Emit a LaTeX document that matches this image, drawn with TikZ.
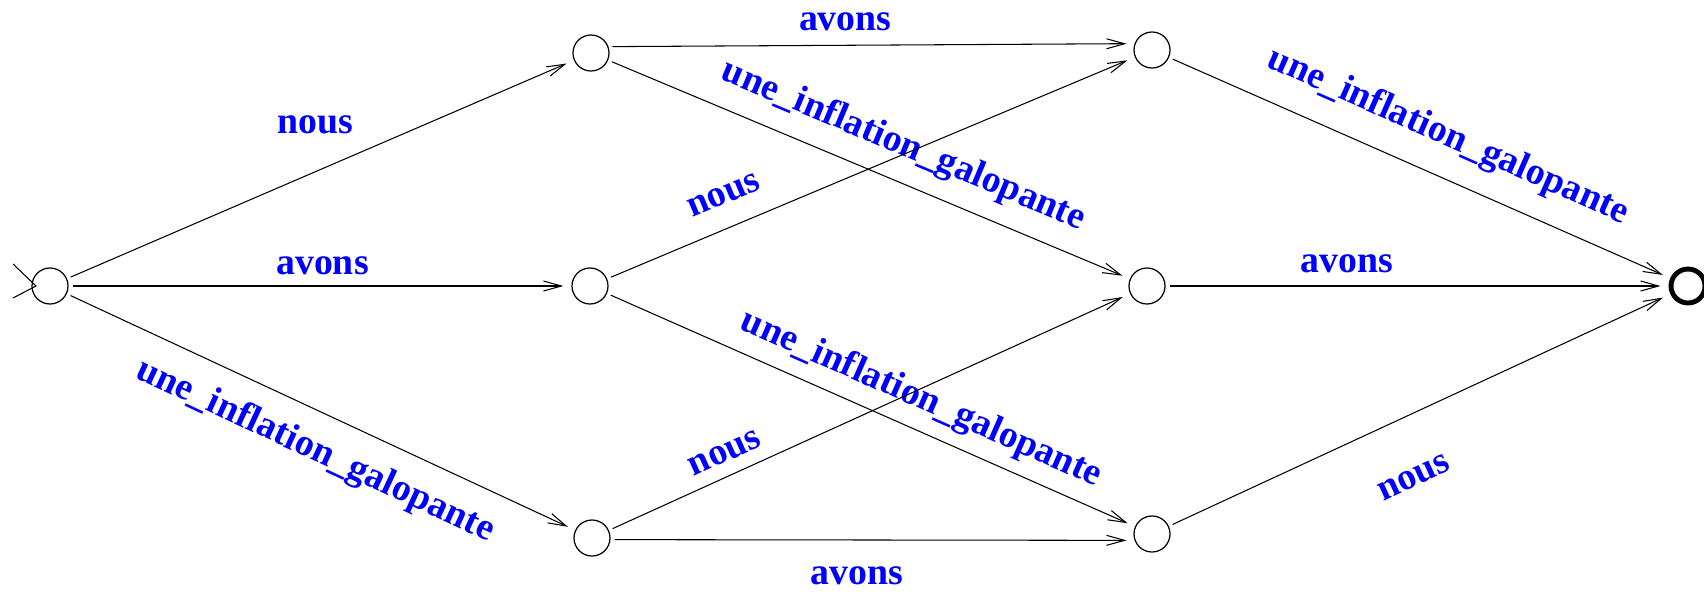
\documentclass[tikz,border=0pt]{standalone}
\usepackage{fontspec}
\setmainfont{Liberation Serif}
\usepackage{xcolor}
\usepackage{tikz}
\usetikzlibrary{arrows.meta, positioning, calc}
\definecolor{mylabel}{RGB}{0,0,255}
\definecolor{mydark}{RGB}{0,0,0}
\tikzset{
  state/.style={circle, draw=mydark, minimum size=0.72cm, inner sep=0pt,
    line width=0.7pt},
  finalstate/.style={circle, draw=mydark, minimum size=0.68cm, inner sep=0pt,
    line width=2.8pt},
  trans/.style={-{Straight Barb[length=0.36cm, width=0.2cm]}, line width=0.6pt,
    color=mydark, shorten >=0.16cm, shorten <=0.08cm},
  lbl/.style={font=\bfseries\fontsize{21.5}{25}\selectfont, text=mylabel,
    inner sep=0pt, anchor=center}
}
\begin{document}
\begin{tikzpicture}
  \useasboundingbox (0,0) rectangle (34.08,11.82);
  % states
  \node[state] (q0) at (1.00,6.10) {};
  \node[state] (q1) at (11.82,10.76) {};
  \node[state] (q2) at (11.80,6.10) {};
  \node[state] (q3) at (11.84,1.06) {};
  \node[state] (q4) at (23.04,10.82) {};
  \node[state] (q5) at (22.94,6.10) {};
  \node[state] (q6) at (23.04,1.14) {};
  \node[finalstate] (q7) at (33.76,6.10) {};
  % initial marker
  \coordinate (init) at ([xshift=-0.28cm]q0.center);
  \draw[line width=0.6pt] (init) ++(-0.46,0.44) -- (init) -- ++(-0.46,-0.24);
  % transitions
  \draw[trans] (q0) -- (q1) node[lbl, pos=.49, yshift=.94cm] {nous};
  \draw[trans] (q0) -- (q2) node[lbl, pos=.505, yshift=.40cm] {avons};
  \draw[trans] (q0) -- (q3) node[lbl, sloped, pos=.52, yshift=-.76cm] {une\_inflation\_galopante};
  \draw[trans] (q1.20) -- (q4.160) node[lbl, pos=.45, yshift=.48cm] {avons};
  \draw[trans] (q1) -- (q5) node[lbl, sloped, pos=.54, yshift=.70cm] {une\_inflation\_galopante};
  \draw[trans] (q2) -- (q4) node[lbl, sloped, pos=.245, yshift=.64cm] {nous};
  \draw[trans] (q2) -- (q6) node[lbl, sloped, pos=.572, yshift=.60cm] {une\_inflation\_galopante};
  \draw[trans] (q3) -- (q5) node[lbl, sloped, pos=.24, yshift=.45cm] {nous};
  \draw[trans] (q3.-5) -- (q6.200) node[lbl, pos=.47, yshift=-.72cm] {avons};
  \draw[trans] (q4) -- (q7) node[lbl, sloped, pos=.525, yshift=.80cm] {une\_inflation\_galopante};
  \draw[trans] (q5) -- (q7) node[lbl, pos=.36, yshift=.44cm] {avons};
  \draw[trans] (q6) -- (q7) node[lbl, sloped, pos=.44, yshift=-1.18cm] {nous};
\end{tikzpicture}
\end{document}
